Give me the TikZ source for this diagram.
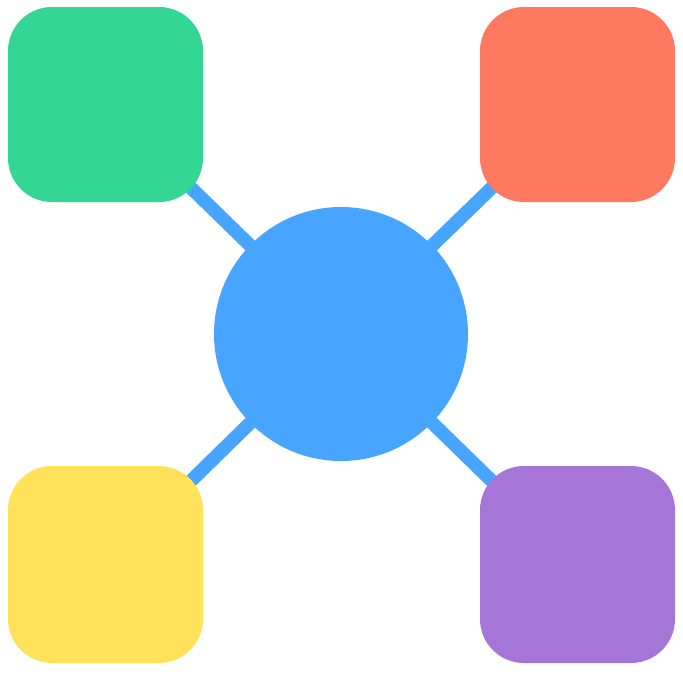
\documentclass[tikz,border=0pt]{standalone}
\usetikzlibrary{backgrounds}
\definecolor{cblue}{HTML}{47A5FF}
\definecolor{cgreen}{HTML}{34D693}
\definecolor{cred}{HTML}{FF7961}
\definecolor{cyellow}{HTML}{FFE15A}
\definecolor{cpurple}{HTML}{A575D8}
\begin{document}
\begin{tikzpicture}[x=1pt,y=-1pt,
  tile/.style={rectangle,rounded corners=44pt,minimum width=195pt,minimum height=195pt,inner sep=0pt,draw=none},
  hub/.style={circle,fill=cblue,minimum size=254pt,inner sep=0pt},
  link/.style={cblue,line width=13.5pt}]
\useasboundingbox (0,0) rectangle (683,683);
\node[hub] (c) at (341,334) {};
\node[tile,fill=cgreen] (g) at (105.5,104.5) {};
\node[tile,fill=cred] (r) at (577.5,104.5) {};
\node[tile,fill=cyellow,minimum height=197pt] (y) at (105.5,564.5) {};
\node[tile,fill=cpurple,minimum height=197pt] (p) at (577.5,564.5) {};
\begin{scope}[on background layer]
\draw[link] (c.center) -- (g.center);
\draw[link] (c.center) -- (r.center);
\draw[link] (c.center) -- (y.center);
\draw[link] (c.center) -- (p.center);
\end{scope}
\end{tikzpicture}
\end{document}
